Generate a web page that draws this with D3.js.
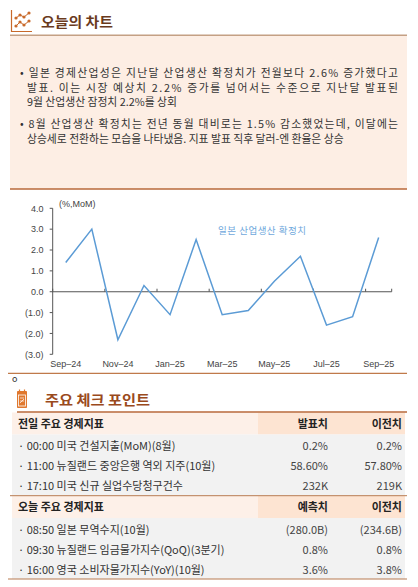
<!DOCTYPE html>
<html><head><meta charset="utf-8">
<script src="https://cdn.jsdelivr.net/npm/d3@7"></script>
<style>
body{margin:0;background:#fff;}
svg{display:block;font-family:"Noto Sans CJK KR","Noto Sans",sans-serif;}
</style></head>
<body>
<svg id="c" width="418" height="587"></svg>
<script>
// ---- data ----
const months = ["Sep-24","Oct-24","Nov-24","Dec-24","Jan-25","Feb-25","Mar-25","Apr-25","May-25","Jun-25","Jul-25","Aug-25","Sep-25"];
const values = [1.4,3.0,-2.3,0.3,-1.1,2.5,-1.1,-0.9,0.5,1.7,-1.6,-1.2,2.6];
const yTicks = [4,3,2,1,0,-1,-2,-3];
const xTickLabels = ["Sep-24","Nov-24","Jan-25","Mar-25","May-25","Jul-25","Sep-25"];
const seriesName = "일본 산업생산 확정치";
const unitLabel = "(%,MoM)";
const bullets = [
  ["• 일본 경제산업성은 지난달 산업생산 확정치가 전월보다 2.6% 증가했다고",
   "발표. 이는 시장 예상치 2.2% 증가를 넘어서는 수준으로 지난달 발표된",
   "9월 산업생산 잠정치 2.2%를 상회"],
  ["• 8월 산업생산 확정치는 전년 동월 대비로는 1.5% 감소했었는데, 이달에는",
   "상승세로 전환하는 모습을 나타냈음. 지표 발표 직후 달러-엔 환율은 상승"]
];
const prevHeader = ["전일 주요 경제지표","발표치","이전치"];
const prevNames = ["· 00:00 미국 건설지출(MoM)(8월)","· 11:00 뉴질랜드 중앙은행 역외 지주(10월)","· 17:10 미국 신규 실업수당청구건수"];
const prevActual = ["0.2%","58.60%","232K"];
const prevPrior = ["0.2%","57.80%","219K"];
const todayHeader = ["오늘 주요 경제지표","예측치","이전치"];
const todayNames = ["· 08:50 일본 무역수지(10월)","· 09:30 뉴질랜드 임금물가지수(QoQ)(3분기)","· 16:00 영국 소비자물가지수(YoY)(10월)"];
const todayForecast = ["(280.0B)","0.8%","3.6%"];
const todayPrior = ["(234.6B)","0.8%","3.8%"];

const svg = d3.select("#c");

// ---- header ----
const ic = svg.append("g").attr("stroke","#c8692a").attr("fill","none");
ic.append("path").attr("d","M11.5,10 V31.5 H32").attr("stroke-width",1.2);
const l1=[[16,18],[20,15],[24,17],[29,13]], l2=[[16,26],[20,22],[24,25],[29,21]];
[l1,l2].forEach(l=>{
  ic.append("path").attr("d",d3.line()(l)).attr("stroke-width",1);
  l.forEach(p=>ic.append("circle").attr("cx",p[0]).attr("cy",p[1]).attr("r",1.6).attr("fill","#c8692a").attr("stroke","none"));
});
svg.append("text").attr("x",41).attr("y",27).attr("font-size",13.5).attr("font-weight","bold")
  .attr("fill","#6a3a1c").attr("textLength",72).attr("lengthAdjust","spacingAndGlyphs").text("오늘의 차트");
svg.append("rect").attr("x",10).attr("y",36).attr("width",397).attr("height",153).attr("fill","#fdeee4");
svg.append("line").attr("x1",10).attr("x2",407).attr("y1",35.2).attr("y2",35.2).attr("stroke","#c4a084").attr("stroke-width",1.5);
svg.append("line").attr("x1",10).attr("x2",407).attr("y1",189).attr("y2",189).attr("stroke","#b8693a").attr("stroke-width",1.3);

// body text
const lineYs = [[77,91.5,106],[128,142.5]];
bullets.forEach((b,bi)=>{
  b.forEach((t,li)=>{
    const full = li < b.length-1;
    const x0 = li===0 ? 20 : 27;
    const tx = svg.append("text").attr("x",x0).attr("y",lineYs[bi][li]).attr("font-size",10.8).attr("fill","#333").text(t);
    if(full) tx.attr("textLength",398-x0).attr("lengthAdjust","spacing");
  });
});

// ---- chart ----
const x = d3.scaleBand().domain(months).range([52.7,391.7]);
const y = d3.scaleLinear().domain([-3,4]).range([354.3,208.3]);
const cx = d => x(d)+x.bandwidth()/2;
const axG = svg.append("g");
axG.append("line").attr("x1",52.7).attr("x2",52.7).attr("y1",y(4)).attr("y2",y(-3)).attr("stroke","#555").attr("stroke-width",1);
yTicks.forEach(t=>{
  axG.append("line").attr("x1",49.7).attr("x2",52.7).attr("y1",y(t)).attr("y2",y(t)).attr("stroke","#555");
  axG.append("text").attr("x",43.5).attr("y",y(t)+3.2).attr("text-anchor","end").attr("font-size",9).attr("fill","#444")
    .attr("font-family","Liberation Sans, Arial, sans-serif")
    .text(t<0 ? "("+Math.abs(t).toFixed(1)+")" : t.toFixed(1));
});
axG.append("line").attr("x1",52.7).attr("x2",391.7).attr("y1",y(0)).attr("y2",y(0)).attr("stroke","#555").attr("stroke-width",1.2);
months.forEach((m,i)=>{ if(i%2===0){ const bx = x(m);
  axG.append("line").attr("x1",bx).attr("x2",bx).attr("y1",y(0)-3).attr("y2",y(0)).attr("stroke","#555"); }});
axG.append("line").attr("x1",391.7).attr("x2",391.7).attr("y1",y(0)-3).attr("y2",y(0)).attr("stroke","#555");
xTickLabels.forEach(m=>{
  axG.append("text").attr("x",cx(m)).attr("y",367).attr("text-anchor","middle").attr("font-size",9).attr("fill","#444")
    .attr("font-family","Liberation Sans, Arial, sans-serif").text(m.replace("-","\u2013"));
});
svg.append("text").attr("x",59).attr("y",207).attr("font-size",9).attr("fill","#444")
  .attr("font-family","Liberation Sans, Arial, sans-serif").text(unitLabel);
svg.append("path").datum(values.map((v,i)=>[cx(months[i]),y(v)]))
  .attr("d",d3.line()).attr("fill","none").attr("stroke","#5b9bd5").attr("stroke-width",1.5);
svg.append("text").attr("x",218).attr("y",233.5).attr("font-size",9.5).attr("fill","#6fa8dc")
  .attr("textLength",88).attr("lengthAdjust","spacing").text(seriesName);
svg.append("line").attr("x1",8).attr("x2",407).attr("y1",373.3).attr("y2",373.3).attr("stroke","#c07a4a").attr("stroke-width",1.3);

// ---- check points ----
svg.append("text").attr("x",12).attr("y",382).attr("font-size",9).attr("fill","#333").text("o");
const cal = svg.append("g");
cal.append("rect").attr("x",17).attr("y",391).attr("width",10).attr("height",17).attr("fill","#e0782e").attr("rx",0.8);
cal.append("rect").attr("x",18.5).attr("y",395).attr("width",7).attr("height",11).attr("fill","none").attr("stroke","#fff").attr("stroke-width",0.8);
cal.append("path").attr("d","M20,398 H24 M20,403 L24,399 M20,401 H24").attr("stroke","#fff").attr("stroke-width",0.7);
cal.append("path").attr("d","M19.5,389.5 V392.5 M24.5,389.5 V392.5").attr("stroke","#e0782e").attr("stroke-width",1.2);
svg.append("text").attr("x",45).attr("y",405).attr("font-size",13.5).attr("font-weight","bold")
  .attr("fill","#9a4a1c").attr("textLength",105).attr("lengthAdjust","spacingAndGlyphs").text("주요 체크 포인트");

function table(top, header, names, c1, c2){
  svg.append("rect").attr("x",12).attr("y",top).attr("width",246).attr("height",22).attr("fill","#fdf0e8");
  svg.append("rect").attr("x",258).attr("y",top).attr("width",147).attr("height",22).attr("fill","#fde4d2");
  svg.append("rect").attr("x",12).attr("y",top+22).attr("width",393).attr("height",61).attr("fill","#f2f2f2");
  svg.append("text").attr("x",18).attr("y",top+15).attr("font-size",11).attr("font-weight","bold").attr("fill","#222").text(header[0]);
  svg.append("text").attr("x",328).attr("y",top+15).attr("text-anchor","end").attr("font-size",11).attr("font-weight","bold").attr("fill","#222").text(header[1]);
  svg.append("text").attr("x",402).attr("y",top+15).attr("text-anchor","end").attr("font-size",11).attr("font-weight","bold").attr("fill","#222").text(header[2]);
  names.forEach((n,i)=>{
    const yy = top+37.5+i*20;
    svg.append("text").attr("x",18).attr("y",yy).attr("font-size",11).attr("fill","#333").text(n);
    svg.append("text").attr("x",328).attr("y",yy).attr("text-anchor","end").attr("font-size",11).attr("fill","#444").text(c1[i]);
    svg.append("text").attr("x",402).attr("y",yy).attr("text-anchor","end").attr("font-size",11).attr("fill","#444").text(c2[i]);
  });
}
table(412.5, prevHeader, prevNames, prevActual, prevPrior);
table(496, todayHeader, todayNames, todayForecast, todayPrior);
svg.append("line").attr("x1",17).attr("x2",407).attr("y1",412).attr("y2",412).attr("stroke","#b8693a").attr("stroke-width",1.3);
svg.append("line").attr("x1",10).attr("x2",407).attr("y1",495.7).attr("y2",495.7).attr("stroke","#b87a50").attr("stroke-width",1);
svg.append("line").attr("x1",8).attr("x2",407).attr("y1",579).attr("y2",579).attr("stroke","#b87a50").attr("stroke-width",1.2);
</script>
</body></html>
